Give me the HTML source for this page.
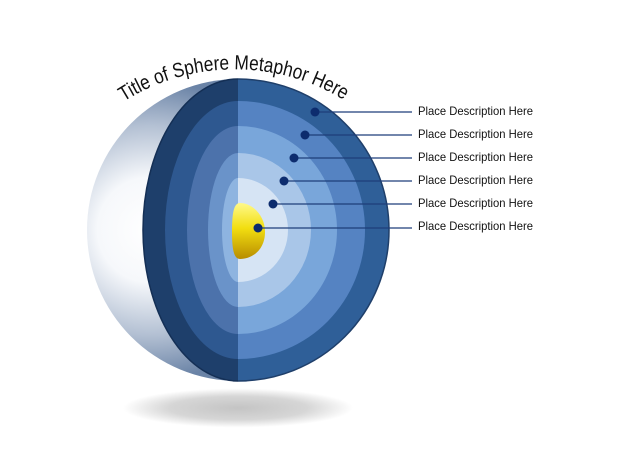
<!DOCTYPE html>
<html><head><meta charset="utf-8"><style>html,body{margin:0;padding:0;background:#fff}svg{display:block}</style></head>
<body>
<svg width="620" height="468" viewBox="0 0 620 468" xmlns="http://www.w3.org/2000/svg">
<defs>
<radialGradient id="sh" cx="238" cy="408" r="115" gradientUnits="userSpaceOnUse" gradientTransform="translate(0,408) scale(1,0.17) translate(0,-408)">
<stop offset="0" stop-color="#c4c4c4"/><stop offset="0.6" stop-color="#d6d6d6"/><stop offset="1" stop-color="#fff"/></radialGradient>
<radialGradient id="sp" cx="150" cy="230" r="150" gradientUnits="userSpaceOnUse">
<stop offset="0" stop-color="#ffffff"/><stop offset="0.35" stop-color="#f6f8fb"/><stop offset="0.7" stop-color="#b3c0d3"/><stop offset="1" stop-color="#6a83a6"/></radialGradient>
<linearGradient id="core" x1="0" y1="0" x2="0" y2="1"><stop offset="0" stop-color="#fff98a"/><stop offset="0.45" stop-color="#f2de10"/><stop offset="1" stop-color="#b88c00"/></linearGradient>
<clipPath id="R"><rect x="238" y="0" width="200" height="468"/></clipPath>
<clipPath id="L"><rect x="0" y="0" width="238" height="468"/></clipPath>
</defs>
<ellipse cx="238" cy="408" rx="125" ry="22" fill="url(#sh)"/>
<circle cx="238" cy="230" r="151" fill="url(#sp)"/>
<g clip-path="url(#L)">
<ellipse cx="238" cy="230" rx="95" ry="151" fill="#1e3f6b" stroke="#142f55" stroke-width="1.5"/>
<ellipse cx="238" cy="230" rx="73" ry="129" fill="#2e5890"/>
<ellipse cx="238" cy="230" rx="51" ry="104" fill="#4c72ab"/>
<ellipse cx="238" cy="230" rx="30" ry="77" fill="#6a93c9"/>
<ellipse cx="238" cy="230" rx="16" ry="52" fill="#8eb4e0"/>
</g>
<g clip-path="url(#R)">
<circle cx="238" cy="230" r="151" fill="#2f5f98" stroke="#1f3f6a" stroke-width="1.5"/>
<ellipse cx="238" cy="230" rx="127" ry="129" fill="#5583c2"/>
<ellipse cx="238" cy="230" rx="99" ry="104" fill="#79a6da"/>
<ellipse cx="238" cy="230" rx="73" ry="77" fill="#a9c6e8"/>
<ellipse cx="238" cy="230" rx="50" ry="52" fill="#d6e4f4"/>
</g>
<path d="M240,203 C252,203 265,215 265,232 C265,250 252,259 240,259 C234,259 232,250 232,232 C232,212 234,203 240,203 Z" fill="url(#core)"/>
<g stroke="#1f3f7a" stroke-width="1.2">
<line x1="315" y1="112" x2="412" y2="112"/><line x1="305" y1="135" x2="412" y2="135"/>
<line x1="294" y1="158" x2="412" y2="158"/><line x1="284" y1="181" x2="412" y2="181"/>
<line x1="273" y1="204" x2="412" y2="204"/><line x1="258" y1="228" x2="412" y2="228"/>
</g>
<g fill="#0d2c6e">
<circle cx="315" cy="112" r="4.5"/><circle cx="305" cy="135" r="4.5"/><circle cx="294" cy="158" r="4.5"/>
<circle cx="284" cy="181" r="4.5"/><circle cx="273" cy="204" r="4.5"/><circle cx="258" cy="228" r="4.5"/>
</g>
<g font-family="Liberation Sans, sans-serif" font-size="12" fill="#111">
<text x="418" y="115" textLength="115" lengthAdjust="spacingAndGlyphs">Place Description Here</text>
<text x="418" y="138" textLength="115" lengthAdjust="spacingAndGlyphs">Place Description Here</text>
<text x="418" y="161" textLength="115" lengthAdjust="spacingAndGlyphs">Place Description Here</text>
<text x="418" y="184" textLength="115" lengthAdjust="spacingAndGlyphs">Place Description Here</text>
<text x="418" y="207" textLength="115" lengthAdjust="spacingAndGlyphs">Place Description Here</text>
<text x="418" y="230" textLength="115" lengthAdjust="spacingAndGlyphs">Place Description Here</text>
</g>
<path id="arc" d="M101,118 A209,209 0 0,1 369,118" fill="none"/>
<text font-family="Liberation Sans, sans-serif" font-size="20.5" fill="#111"><textPath href="#arc" startOffset="28" textLength="232" lengthAdjust="spacingAndGlyphs">Title of Sphere Metaphor Here</textPath></text>
</svg>
</body></html>
